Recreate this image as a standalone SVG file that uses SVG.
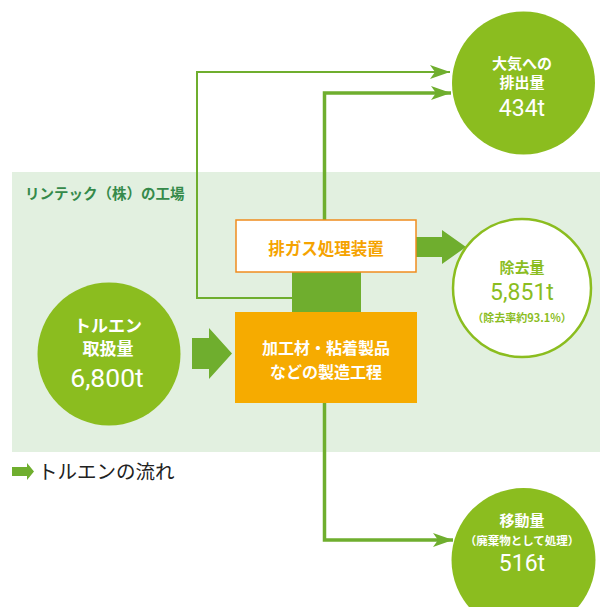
<svg xmlns="http://www.w3.org/2000/svg" width="600" height="607" viewBox="0 0 600 607">
<style>
.jp{font-family:"Noto Sans CJK JP","Noto Sans",sans-serif;font-weight:bold}
.num{font-family:"Roboto","Liberation Sans",sans-serif;font-weight:400}
.w{fill:#ffffff}
.g{fill:#8bbd1f}
.line{fill:none;stroke:#6fae2e}
</style>
<defs>
<marker id="ah" viewBox="0 0 20 14" refX="20" refY="7" markerWidth="20" markerHeight="14" markerUnits="userSpaceOnUse" orient="auto">
<path d="M0,0 L20,7 L0,14 L5,7 Z" fill="#6fae2e"/>
</marker>
</defs>
<rect x="12" y="172" width="588" height="280" fill="#e2f0e0"/>
<text class="jp" x="25" y="199" font-size="14.5" fill="#358a4a">リンテック（株）の工場</text>

<g id="connectors">
<polyline class="line" stroke-width="2" points="292,298 197,298 197,72 450,72" marker-end="url(#ah)"/>
<polyline class="line" stroke-width="3.5" points="324.5,220 324.5,93 451,93" marker-end="url(#ah)"/>
<polyline class="line" stroke-width="3.5" points="324.5,403 324.5,540 453,540" marker-end="url(#ah)"/>
<rect x="292" y="272" width="69" height="40" fill="#6fae2e"/>
<path d="M192,338 H209 V328 L232,353.5 L209,379 V369 H192 Z" fill="#6fae2e"/>
<path d="M416,237 H442 V230 L466,247 L442,264 V257 H416 Z" fill="#6fae2e"/>
</g>

<g id="air">
<circle cx="523.5" cy="83" r="71.5" fill="#8bbd1f"/>
<text class="jp w" x="522" y="68.5" font-size="15" text-anchor="middle">大気への</text>
<text class="jp w" x="522" y="87.5" font-size="15" text-anchor="middle">排出量</text>
<text class="num w" x="522" y="116" font-size="23" text-anchor="middle">434t</text>
</g>

<g id="exhaust">
<rect x="236" y="220" width="180" height="52" fill="#ffffff" stroke="#f08c1e" stroke-width="1.5"/>
<text class="jp" x="326" y="254.5" font-size="16.5" fill="#f5a300" text-anchor="middle">排ガス処理装置</text>
</g>

<g id="removed">
<circle cx="522" cy="288" r="69" fill="#ffffff" stroke="#8bbd1f" stroke-width="2.5"/>
<text class="jp g" x="522" y="273" font-size="15" text-anchor="middle">除去量</text>
<text class="num g" x="522" y="300" font-size="23" text-anchor="middle">5,851t</text>
<text class="jp g" x="522" y="321.5" font-size="11" text-anchor="middle" font-weight="500">（除去率約93.1%）</text>
</g>

<g id="toluene">
<circle cx="109" cy="354" r="71.5" fill="#8bbd1f"/>
<text class="jp w" x="108" y="331.5" font-size="17" text-anchor="middle">トルエン</text>
<text class="jp w" x="108" y="354.5" font-size="17" text-anchor="middle">取扱量</text>
<text class="num w" x="107" y="387" font-size="26.5" text-anchor="middle">6,800t</text>
</g>

<g id="process">
<rect x="235" y="312" width="182" height="91" fill="#f6ab00"/>
<text class="jp w" x="326" y="354" font-size="16" text-anchor="middle">加工材・粘着製品</text>
<text class="jp w" x="326" y="378" font-size="16" text-anchor="middle">などの製造工程</text>
</g>

<g id="transfer">
<circle cx="523.5" cy="560" r="72" fill="#8bbd1f"/>
<text class="jp w" x="522" y="526" font-size="15" text-anchor="middle">移動量</text>
<text class="jp w" x="522" y="544.5" font-size="11.5" text-anchor="middle" font-weight="500">（廃棄物として処理）</text>
<text class="num w" x="522" y="571" font-size="23" text-anchor="middle">516t</text>
</g>

<g id="legend">
<path d="M12,467 H27 V463 L34,471.5 L27,480 V476 H12 Z" fill="#6fae2e"/>
<text x="38" y="479" font-size="19.5" fill="#222222" font-family="Noto Sans CJK JP, Noto Sans, sans-serif">トルエンの流れ</text>
</g>
</svg>
